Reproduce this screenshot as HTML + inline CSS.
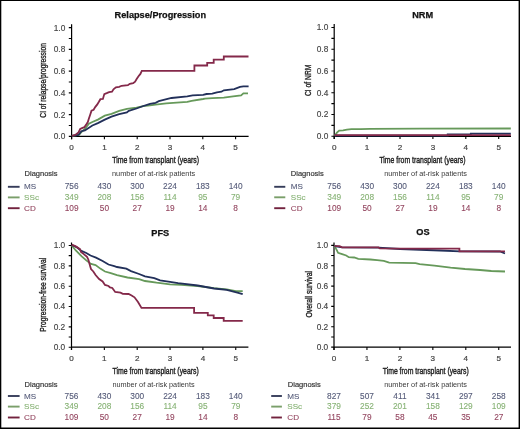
<!DOCTYPE html>
<html><head><meta charset="utf-8"><style>
html,body{margin:0;padding:0;background:#fff;}
svg{display:block;will-change:transform;}
text{font-family:"Liberation Sans", sans-serif;stroke-width:0.18px;}
</style></head><body>
<svg width="520" height="429" viewBox="0 0 520 429">
<rect x="0" y="0" width="520" height="429" fill="#fff"/>
<path d="M71.60 24.20 V139.20 M71.60 136.40 H248.60" stroke="#000" stroke-width="1.2" fill="none"/>
<path d="M68.80 136.40 H71.60 M68.80 125.52 H71.60 M68.80 114.64 H71.60 M68.80 103.76 H71.60 M68.80 92.88 H71.60 M68.80 82.00 H71.60 M68.80 71.12 H71.60 M68.80 60.24 H71.60 M68.80 49.36 H71.60 M68.80 38.48 H71.60 M68.80 27.60 H71.60 M71.60 136.40 V139.20 M104.40 136.40 V139.20 M137.20 136.40 V139.20 M170.00 136.40 V139.20 M202.80 136.40 V139.20 M235.60 136.40 V139.20 " stroke="#000" stroke-width="1.1" fill="none"/>
<text x="65.30" y="139.30" text-anchor="end" font-size="8.3" fill="#444" stroke="#444" style="stroke-width:0.15px">0.0</text>
<text x="65.30" y="117.54" text-anchor="end" font-size="8.3" fill="#444" stroke="#444" style="stroke-width:0.15px">0.2</text>
<text x="65.30" y="95.78" text-anchor="end" font-size="8.3" fill="#444" stroke="#444" style="stroke-width:0.15px">0.4</text>
<text x="65.30" y="74.02" text-anchor="end" font-size="8.3" fill="#444" stroke="#444" style="stroke-width:0.15px">0.6</text>
<text x="65.30" y="52.26" text-anchor="end" font-size="8.3" fill="#444" stroke="#444" style="stroke-width:0.15px">0.8</text>
<text x="65.30" y="30.50" text-anchor="end" font-size="8.3" fill="#444" stroke="#444" style="stroke-width:0.15px">1.0</text>
<text x="71.60" y="150.20" text-anchor="middle" font-size="8.1" fill="#444" stroke="#444" style="stroke-width:0.2px">0</text>
<text x="104.40" y="150.20" text-anchor="middle" font-size="8.1" fill="#444" stroke="#444" style="stroke-width:0.2px">1</text>
<text x="137.20" y="150.20" text-anchor="middle" font-size="8.1" fill="#444" stroke="#444" style="stroke-width:0.2px">2</text>
<text x="170.00" y="150.20" text-anchor="middle" font-size="8.1" fill="#444" stroke="#444" style="stroke-width:0.2px">3</text>
<text x="202.80" y="150.20" text-anchor="middle" font-size="8.1" fill="#444" stroke="#444" style="stroke-width:0.2px">4</text>
<text x="235.60" y="150.20" text-anchor="middle" font-size="8.1" fill="#444" stroke="#444" style="stroke-width:0.2px">5</text>
<text x="160.30" y="17.90" text-anchor="middle" font-size="9.2" font-weight="bold" fill="#111" stroke="#111" style="stroke-width:0.25px">Relapse/Progression</text>
<text transform="translate(45.80 80.40) rotate(-90)" text-anchor="middle" font-size="9.4" fill="#222" stroke="#222" style="stroke-width:0.35px" textLength="74.5" lengthAdjust="spacingAndGlyphs">CI of relapse/progression</text>
<text x="112.30" y="163.30" font-size="9.7" fill="#222" stroke="#222" style="stroke-width:0.4px" textLength="86.8" lengthAdjust="spacingAndGlyphs">Time from transplant (years)</text>
<polyline points="71.8,135.9 79.0,134.8 82.0,131.5 84.9,129.0 88.9,123.7 92.4,122.0 97.9,119.6 104.8,115.7 111.5,113.8 119.2,110.9 126.9,108.9 136.5,107.6 143.3,106.2 150.0,105.3 155.6,104.6 166.2,103.3 176.7,102.6 187.3,101.9 191.6,100.9 203.1,99.0 205.0,98.6 212.3,98.2 223.8,97.6 233.1,96.3 241.1,95.4 243.4,93.4 248.0,93.4" stroke="#66995a" stroke-width="1.8" fill="none" stroke-linejoin="miter"/>
<polyline points="71.8,135.9 78.5,134.8 81.4,131.2 84.9,130.4 87.8,128.4 92.4,125.5 97.9,123.1 104.8,119.6 111.5,116.6 119.2,114.2 126.9,112.3 128.8,110.9 136.5,108.5 143.3,106.0 150.0,103.9 155.6,102.8 158.8,101.2 171.5,98.0 187.3,96.4 192.6,95.3 203.1,94.8 206.5,94.0 212.3,93.7 216.9,92.3 221.5,91.7 223.8,90.3 234.2,89.1 240.0,86.9 243.4,86.3 248.6,86.3" stroke="#22305a" stroke-width="1.8" fill="none" stroke-linejoin="miter"/>
<polyline points="71.8,135.9 75.6,134.8 78.5,132.4 80.2,129.0 82.0,128.1 84.3,127.2 86.0,124.9 87.8,122.0 88.9,118.5 90.1,115.0 91.5,110.7 93.6,109.7 95.2,107.1 97.3,104.4 98.9,101.8 100.4,99.2 102.9,99.0 104.3,94.1 106.7,93.2 109.1,92.2 112.0,91.7 113.5,89.3 115.9,87.4 119.2,86.9 121.6,85.8 127.9,85.2 129.8,83.8 133.2,83.1 135.1,81.6 136.5,79.2 138.5,76.3 140.4,73.9 141.8,70.9 194.4,70.9 194.4,65.5 207.2,65.5 207.2,62.8 213.7,62.8 213.7,59.7 223.8,59.7 223.8,56.5 248.5,56.5" stroke="#84294a" stroke-width="1.8" fill="none" stroke-linejoin="miter"/>
<text x="24.60" y="175.80" font-size="7.5" fill="#333" stroke="#333">Diagnosis</text>
<text x="112.00" y="175.80" font-size="7.5" fill="#3a3a3a" textLength="83.2" lengthAdjust="spacingAndGlyphs">number of at-risk patients</text>
<path d="M7.90 186.80 H19.60" stroke="#363d5a" stroke-width="1.9"/>
<text x="24.10" y="189.40" font-size="8.1" fill="#545a78" stroke="#545a78" style="stroke-width:0.1px">MS</text>
<text x="71.60" y="189.40" text-anchor="middle" font-size="8.3" fill="#545a78" stroke="#545a78" style="stroke-width:0.1px">756</text>
<text x="104.40" y="189.40" text-anchor="middle" font-size="8.3" fill="#545a78" stroke="#545a78" style="stroke-width:0.1px">430</text>
<text x="137.20" y="189.40" text-anchor="middle" font-size="8.3" fill="#545a78" stroke="#545a78" style="stroke-width:0.1px">300</text>
<text x="170.00" y="189.40" text-anchor="middle" font-size="8.3" fill="#545a78" stroke="#545a78" style="stroke-width:0.1px">224</text>
<text x="202.80" y="189.40" text-anchor="middle" font-size="8.3" fill="#545a78" stroke="#545a78" style="stroke-width:0.1px">183</text>
<text x="235.60" y="189.40" text-anchor="middle" font-size="8.3" fill="#545a78" stroke="#545a78" style="stroke-width:0.1px">140</text>
<path d="M7.90 197.40 H19.60" stroke="#7a9f6a" stroke-width="1.9"/>
<text x="24.10" y="200.00" font-size="8.1" fill="#86b274" stroke="#86b274" style="stroke-width:0.1px">SSc</text>
<text x="71.60" y="200.00" text-anchor="middle" font-size="8.3" fill="#86b274" stroke="#86b274" style="stroke-width:0.1px">349</text>
<text x="104.40" y="200.00" text-anchor="middle" font-size="8.3" fill="#86b274" stroke="#86b274" style="stroke-width:0.1px">208</text>
<text x="137.20" y="200.00" text-anchor="middle" font-size="8.3" fill="#86b274" stroke="#86b274" style="stroke-width:0.1px">156</text>
<text x="170.00" y="200.00" text-anchor="middle" font-size="8.3" fill="#86b274" stroke="#86b274" style="stroke-width:0.1px">114</text>
<text x="202.80" y="200.00" text-anchor="middle" font-size="8.3" fill="#86b274" stroke="#86b274" style="stroke-width:0.1px">95</text>
<text x="235.60" y="200.00" text-anchor="middle" font-size="8.3" fill="#86b274" stroke="#86b274" style="stroke-width:0.1px">79</text>
<path d="M7.90 208.20 H19.60" stroke="#72223e" stroke-width="1.9"/>
<text x="24.10" y="210.80" font-size="8.1" fill="#93455f" stroke="#93455f" style="stroke-width:0.1px">CD</text>
<text x="71.60" y="210.80" text-anchor="middle" font-size="8.3" fill="#93455f" stroke="#93455f" style="stroke-width:0.1px">109</text>
<text x="104.40" y="210.80" text-anchor="middle" font-size="8.3" fill="#93455f" stroke="#93455f" style="stroke-width:0.1px">50</text>
<text x="137.20" y="210.80" text-anchor="middle" font-size="8.3" fill="#93455f" stroke="#93455f" style="stroke-width:0.1px">27</text>
<text x="170.00" y="210.80" text-anchor="middle" font-size="8.3" fill="#93455f" stroke="#93455f" style="stroke-width:0.1px">19</text>
<text x="202.80" y="210.80" text-anchor="middle" font-size="8.3" fill="#93455f" stroke="#93455f" style="stroke-width:0.1px">14</text>
<text x="235.60" y="210.80" text-anchor="middle" font-size="8.3" fill="#93455f" stroke="#93455f" style="stroke-width:0.1px">8</text>
<path d="M334.20 24.10 V139.10 M334.20 136.30 H511.00" stroke="#000" stroke-width="1.2" fill="none"/>
<path d="M331.40 136.30 H334.20 M331.40 125.42 H334.20 M331.40 114.54 H334.20 M331.40 103.66 H334.20 M331.40 92.78 H334.20 M331.40 81.90 H334.20 M331.40 71.02 H334.20 M331.40 60.14 H334.20 M331.40 49.26 H334.20 M331.40 38.38 H334.20 M331.40 27.50 H334.20 M334.20 136.30 V139.10 M367.10 136.30 V139.10 M400.00 136.30 V139.10 M432.90 136.30 V139.10 M465.80 136.30 V139.10 M498.70 136.30 V139.10 " stroke="#000" stroke-width="1.1" fill="none"/>
<text x="328.30" y="139.20" text-anchor="end" font-size="8.3" fill="#444" stroke="#444" style="stroke-width:0.15px">0.0</text>
<text x="328.30" y="117.44" text-anchor="end" font-size="8.3" fill="#444" stroke="#444" style="stroke-width:0.15px">0.2</text>
<text x="328.30" y="95.68" text-anchor="end" font-size="8.3" fill="#444" stroke="#444" style="stroke-width:0.15px">0.4</text>
<text x="328.30" y="73.92" text-anchor="end" font-size="8.3" fill="#444" stroke="#444" style="stroke-width:0.15px">0.6</text>
<text x="328.30" y="52.16" text-anchor="end" font-size="8.3" fill="#444" stroke="#444" style="stroke-width:0.15px">0.8</text>
<text x="328.30" y="30.40" text-anchor="end" font-size="8.3" fill="#444" stroke="#444" style="stroke-width:0.15px">1.0</text>
<text x="334.20" y="150.20" text-anchor="middle" font-size="8.1" fill="#444" stroke="#444" style="stroke-width:0.2px">0</text>
<text x="367.10" y="150.20" text-anchor="middle" font-size="8.1" fill="#444" stroke="#444" style="stroke-width:0.2px">1</text>
<text x="400.00" y="150.20" text-anchor="middle" font-size="8.1" fill="#444" stroke="#444" style="stroke-width:0.2px">2</text>
<text x="432.90" y="150.20" text-anchor="middle" font-size="8.1" fill="#444" stroke="#444" style="stroke-width:0.2px">3</text>
<text x="465.80" y="150.20" text-anchor="middle" font-size="8.1" fill="#444" stroke="#444" style="stroke-width:0.2px">4</text>
<text x="498.70" y="150.20" text-anchor="middle" font-size="8.1" fill="#444" stroke="#444" style="stroke-width:0.2px">5</text>
<text x="422.60" y="17.90" text-anchor="middle" font-size="9.2" font-weight="bold" fill="#111" stroke="#111" style="stroke-width:0.25px">NRM</text>
<text transform="translate(311.20 80.30) rotate(-90)" text-anchor="middle" font-size="9.4" fill="#222" stroke="#222" style="stroke-width:0.35px" textLength="31.5" lengthAdjust="spacingAndGlyphs">CI of NRM</text>
<text x="379.40" y="163.40" font-size="9.7" fill="#222" stroke="#222" style="stroke-width:0.4px" textLength="86.2" lengthAdjust="spacingAndGlyphs">Time from transplant (years)</text>
<polyline points="334.6,136.0 336.9,132.7 339.2,130.6 343.1,130.4 346.9,129.6 351.5,129.2 360.8,129.1 370.0,128.8 420.0,128.6 510.8,128.5" stroke="#66995a" stroke-width="1.8" fill="none" stroke-linejoin="miter"/>
<polyline points="334.6,135.6 447.7,135.6 447.7,134.4 470.8,134.4 470.8,133.6 510.8,133.6" stroke="#22305a" stroke-width="1.8" fill="none" stroke-linejoin="miter"/>
<polyline points="334.6,135.2 510.8,135.2" stroke="#84294a" stroke-width="1.8" fill="none" stroke-linejoin="miter"/>
<text x="290.80" y="175.80" font-size="7.5" fill="#333" stroke="#333">Diagnosis</text>
<text x="384.20" y="175.80" font-size="7.5" fill="#3a3a3a" textLength="82.8" lengthAdjust="spacingAndGlyphs">number of at-risk patients</text>
<path d="M274.20 186.80 H285.30" stroke="#363d5a" stroke-width="1.9"/>
<text x="290.80" y="189.40" font-size="8.1" fill="#545a78" stroke="#545a78" style="stroke-width:0.1px">MS</text>
<text x="334.20" y="189.40" text-anchor="middle" font-size="8.3" fill="#545a78" stroke="#545a78" style="stroke-width:0.1px">756</text>
<text x="367.10" y="189.40" text-anchor="middle" font-size="8.3" fill="#545a78" stroke="#545a78" style="stroke-width:0.1px">430</text>
<text x="400.00" y="189.40" text-anchor="middle" font-size="8.3" fill="#545a78" stroke="#545a78" style="stroke-width:0.1px">300</text>
<text x="432.90" y="189.40" text-anchor="middle" font-size="8.3" fill="#545a78" stroke="#545a78" style="stroke-width:0.1px">224</text>
<text x="465.80" y="189.40" text-anchor="middle" font-size="8.3" fill="#545a78" stroke="#545a78" style="stroke-width:0.1px">183</text>
<text x="498.70" y="189.40" text-anchor="middle" font-size="8.3" fill="#545a78" stroke="#545a78" style="stroke-width:0.1px">140</text>
<path d="M274.20 197.30 H285.30" stroke="#7a9f6a" stroke-width="1.9"/>
<text x="290.80" y="199.90" font-size="8.1" fill="#86b274" stroke="#86b274" style="stroke-width:0.1px">SSc</text>
<text x="334.20" y="199.90" text-anchor="middle" font-size="8.3" fill="#86b274" stroke="#86b274" style="stroke-width:0.1px">349</text>
<text x="367.10" y="199.90" text-anchor="middle" font-size="8.3" fill="#86b274" stroke="#86b274" style="stroke-width:0.1px">208</text>
<text x="400.00" y="199.90" text-anchor="middle" font-size="8.3" fill="#86b274" stroke="#86b274" style="stroke-width:0.1px">156</text>
<text x="432.90" y="199.90" text-anchor="middle" font-size="8.3" fill="#86b274" stroke="#86b274" style="stroke-width:0.1px">114</text>
<text x="465.80" y="199.90" text-anchor="middle" font-size="8.3" fill="#86b274" stroke="#86b274" style="stroke-width:0.1px">95</text>
<text x="498.70" y="199.90" text-anchor="middle" font-size="8.3" fill="#86b274" stroke="#86b274" style="stroke-width:0.1px">79</text>
<path d="M274.20 208.20 H285.30" stroke="#72223e" stroke-width="1.9"/>
<text x="290.80" y="210.80" font-size="8.1" fill="#93455f" stroke="#93455f" style="stroke-width:0.1px">CD</text>
<text x="334.20" y="210.80" text-anchor="middle" font-size="8.3" fill="#93455f" stroke="#93455f" style="stroke-width:0.1px">109</text>
<text x="367.10" y="210.80" text-anchor="middle" font-size="8.3" fill="#93455f" stroke="#93455f" style="stroke-width:0.1px">50</text>
<text x="400.00" y="210.80" text-anchor="middle" font-size="8.3" fill="#93455f" stroke="#93455f" style="stroke-width:0.1px">27</text>
<text x="432.90" y="210.80" text-anchor="middle" font-size="8.3" fill="#93455f" stroke="#93455f" style="stroke-width:0.1px">19</text>
<text x="465.80" y="210.80" text-anchor="middle" font-size="8.3" fill="#93455f" stroke="#93455f" style="stroke-width:0.1px">14</text>
<text x="498.70" y="210.80" text-anchor="middle" font-size="8.3" fill="#93455f" stroke="#93455f" style="stroke-width:0.1px">8</text>
<path d="M71.50 242.40 V350.00 M71.50 347.20 H248.40" stroke="#000" stroke-width="1.2" fill="none"/>
<path d="M68.70 347.20 H71.50 M68.70 337.03 H71.50 M68.70 326.86 H71.50 M68.70 316.69 H71.50 M68.70 306.52 H71.50 M68.70 296.35 H71.50 M68.70 286.18 H71.50 M68.70 276.01 H71.50 M68.70 265.84 H71.50 M68.70 255.67 H71.50 M68.70 245.50 H71.50 M71.50 347.20 V350.00 M104.35 347.20 V350.00 M137.20 347.20 V350.00 M170.05 347.20 V350.00 M202.90 347.20 V350.00 M235.75 347.20 V350.00 " stroke="#000" stroke-width="1.1" fill="none"/>
<text x="65.20" y="350.10" text-anchor="end" font-size="8.3" fill="#444" stroke="#444" style="stroke-width:0.15px">0.0</text>
<text x="65.20" y="329.76" text-anchor="end" font-size="8.3" fill="#444" stroke="#444" style="stroke-width:0.15px">0.2</text>
<text x="65.20" y="309.42" text-anchor="end" font-size="8.3" fill="#444" stroke="#444" style="stroke-width:0.15px">0.4</text>
<text x="65.20" y="289.08" text-anchor="end" font-size="8.3" fill="#444" stroke="#444" style="stroke-width:0.15px">0.6</text>
<text x="65.20" y="268.74" text-anchor="end" font-size="8.3" fill="#444" stroke="#444" style="stroke-width:0.15px">0.8</text>
<text x="65.20" y="248.40" text-anchor="end" font-size="8.3" fill="#444" stroke="#444" style="stroke-width:0.15px">1.0</text>
<text x="71.50" y="361.20" text-anchor="middle" font-size="8.1" fill="#444" stroke="#444" style="stroke-width:0.2px">0</text>
<text x="104.35" y="361.20" text-anchor="middle" font-size="8.1" fill="#444" stroke="#444" style="stroke-width:0.2px">1</text>
<text x="137.20" y="361.20" text-anchor="middle" font-size="8.1" fill="#444" stroke="#444" style="stroke-width:0.2px">2</text>
<text x="170.05" y="361.20" text-anchor="middle" font-size="8.1" fill="#444" stroke="#444" style="stroke-width:0.2px">3</text>
<text x="202.90" y="361.20" text-anchor="middle" font-size="8.1" fill="#444" stroke="#444" style="stroke-width:0.2px">4</text>
<text x="235.75" y="361.20" text-anchor="middle" font-size="8.1" fill="#444" stroke="#444" style="stroke-width:0.2px">5</text>
<text x="160.30" y="235.50" text-anchor="middle" font-size="9.2" font-weight="bold" fill="#111" stroke="#111" style="stroke-width:0.25px">PFS</text>
<text transform="translate(45.60 294.70) rotate(-90)" text-anchor="middle" font-size="9.4" fill="#222" stroke="#222" style="stroke-width:0.35px" textLength="73.9" lengthAdjust="spacingAndGlyphs">Progression-free survival</text>
<text x="112.50" y="374.10" font-size="9.7" fill="#222" stroke="#222" style="stroke-width:0.4px" textLength="86.3" lengthAdjust="spacingAndGlyphs">Time from transplant (years)</text>
<polyline points="71.7,245.5 75.8,250.5 81.7,256.3 86.3,260.4 91.0,263.9 95.6,265.1 100.3,268.6 105.0,271.5 110.8,273.2 117.0,275.2 127.5,277.5 139.1,279.2 145.0,281.0 156.6,282.7 170.0,284.3 181.3,284.9 197.7,286.0 214.0,288.1 226.7,289.3 236.0,291.1 242.7,291.1" stroke="#66995a" stroke-width="1.8" fill="none" stroke-linejoin="miter"/>
<polyline points="71.7,245.0 76.5,247.1 81.4,250.9 86.3,253.0 90.5,255.5 96.0,257.6 102.6,261.0 108.5,264.5 114.3,266.2 117.0,267.0 126.3,268.7 131.0,271.1 139.1,274.0 145.0,276.3 154.3,278.1 160.1,280.4 170.0,281.9 178.1,283.1 197.7,285.5 214.0,288.5 226.7,289.9 238.3,292.8 242.7,294.2" stroke="#22305a" stroke-width="1.8" fill="none" stroke-linejoin="miter"/>
<polyline points="71.7,244.7 75.8,246.4 80.0,249.2 81.0,252.0 83.8,254.1 87.0,256.9 88.4,259.7 90.1,266.0 91.0,269.1 93.3,271.5 95.6,275.0 99.1,279.0 102.6,281.4 105.0,284.9 108.5,286.0 110.0,287.4 112.3,288.0 115.2,292.0 120.5,292.6 122.8,293.8 128.6,294.0 131.6,295.5 134.5,297.3 138.0,302.0 141.5,307.9 194.1,307.9 194.1,312.8 207.8,312.8 207.8,315.4 213.7,315.4 213.7,318.0 223.7,318.0 223.7,320.9 242.7,320.9" stroke="#84294a" stroke-width="1.8" fill="none" stroke-linejoin="miter"/>
<text x="24.60" y="386.60" font-size="7.5" fill="#333" stroke="#333">Diagnosis</text>
<text x="112.40" y="386.60" font-size="7.5" fill="#3a3a3a" textLength="82.2" lengthAdjust="spacingAndGlyphs">number of at-risk patients</text>
<path d="M7.90 396.00 H19.60" stroke="#363d5a" stroke-width="1.9"/>
<text x="24.10" y="398.60" font-size="8.1" fill="#545a78" stroke="#545a78" style="stroke-width:0.1px">MS</text>
<text x="71.50" y="398.60" text-anchor="middle" font-size="8.3" fill="#545a78" stroke="#545a78" style="stroke-width:0.1px">756</text>
<text x="104.35" y="398.60" text-anchor="middle" font-size="8.3" fill="#545a78" stroke="#545a78" style="stroke-width:0.1px">430</text>
<text x="137.20" y="398.60" text-anchor="middle" font-size="8.3" fill="#545a78" stroke="#545a78" style="stroke-width:0.1px">300</text>
<text x="170.05" y="398.60" text-anchor="middle" font-size="8.3" fill="#545a78" stroke="#545a78" style="stroke-width:0.1px">224</text>
<text x="202.90" y="398.60" text-anchor="middle" font-size="8.3" fill="#545a78" stroke="#545a78" style="stroke-width:0.1px">183</text>
<text x="235.75" y="398.60" text-anchor="middle" font-size="8.3" fill="#545a78" stroke="#545a78" style="stroke-width:0.1px">140</text>
<path d="M7.90 406.60 H19.60" stroke="#7a9f6a" stroke-width="1.9"/>
<text x="24.10" y="409.20" font-size="8.1" fill="#86b274" stroke="#86b274" style="stroke-width:0.1px">SSc</text>
<text x="71.50" y="409.20" text-anchor="middle" font-size="8.3" fill="#86b274" stroke="#86b274" style="stroke-width:0.1px">349</text>
<text x="104.35" y="409.20" text-anchor="middle" font-size="8.3" fill="#86b274" stroke="#86b274" style="stroke-width:0.1px">208</text>
<text x="137.20" y="409.20" text-anchor="middle" font-size="8.3" fill="#86b274" stroke="#86b274" style="stroke-width:0.1px">156</text>
<text x="170.05" y="409.20" text-anchor="middle" font-size="8.3" fill="#86b274" stroke="#86b274" style="stroke-width:0.1px">114</text>
<text x="202.90" y="409.20" text-anchor="middle" font-size="8.3" fill="#86b274" stroke="#86b274" style="stroke-width:0.1px">95</text>
<text x="235.75" y="409.20" text-anchor="middle" font-size="8.3" fill="#86b274" stroke="#86b274" style="stroke-width:0.1px">79</text>
<path d="M7.90 417.50 H19.60" stroke="#72223e" stroke-width="1.9"/>
<text x="24.10" y="420.10" font-size="8.1" fill="#93455f" stroke="#93455f" style="stroke-width:0.1px">CD</text>
<text x="71.50" y="420.10" text-anchor="middle" font-size="8.3" fill="#93455f" stroke="#93455f" style="stroke-width:0.1px">109</text>
<text x="104.35" y="420.10" text-anchor="middle" font-size="8.3" fill="#93455f" stroke="#93455f" style="stroke-width:0.1px">50</text>
<text x="137.20" y="420.10" text-anchor="middle" font-size="8.3" fill="#93455f" stroke="#93455f" style="stroke-width:0.1px">27</text>
<text x="170.05" y="420.10" text-anchor="middle" font-size="8.3" fill="#93455f" stroke="#93455f" style="stroke-width:0.1px">19</text>
<text x="202.90" y="420.10" text-anchor="middle" font-size="8.3" fill="#93455f" stroke="#93455f" style="stroke-width:0.1px">14</text>
<text x="235.75" y="420.10" text-anchor="middle" font-size="8.3" fill="#93455f" stroke="#93455f" style="stroke-width:0.1px">8</text>
<path d="M334.00 242.40 V349.90 M334.00 347.10 H511.00" stroke="#000" stroke-width="1.2" fill="none"/>
<path d="M331.20 347.10 H334.00 M331.20 336.93 H334.00 M331.20 326.76 H334.00 M331.20 316.59 H334.00 M331.20 306.42 H334.00 M331.20 296.25 H334.00 M331.20 286.08 H334.00 M331.20 275.91 H334.00 M331.20 265.74 H334.00 M331.20 255.57 H334.00 M331.20 245.40 H334.00 M334.00 347.10 V349.90 M366.95 347.10 V349.90 M399.90 347.10 V349.90 M432.85 347.10 V349.90 M465.80 347.10 V349.90 M498.75 347.10 V349.90 " stroke="#000" stroke-width="1.1" fill="none"/>
<text x="328.20" y="350.00" text-anchor="end" font-size="8.3" fill="#444" stroke="#444" style="stroke-width:0.15px">0.0</text>
<text x="328.20" y="329.66" text-anchor="end" font-size="8.3" fill="#444" stroke="#444" style="stroke-width:0.15px">0.2</text>
<text x="328.20" y="309.32" text-anchor="end" font-size="8.3" fill="#444" stroke="#444" style="stroke-width:0.15px">0.4</text>
<text x="328.20" y="288.98" text-anchor="end" font-size="8.3" fill="#444" stroke="#444" style="stroke-width:0.15px">0.6</text>
<text x="328.20" y="268.64" text-anchor="end" font-size="8.3" fill="#444" stroke="#444" style="stroke-width:0.15px">0.8</text>
<text x="328.20" y="248.30" text-anchor="end" font-size="8.3" fill="#444" stroke="#444" style="stroke-width:0.15px">1.0</text>
<text x="334.00" y="361.20" text-anchor="middle" font-size="8.1" fill="#444" stroke="#444" style="stroke-width:0.2px">0</text>
<text x="366.95" y="361.20" text-anchor="middle" font-size="8.1" fill="#444" stroke="#444" style="stroke-width:0.2px">1</text>
<text x="399.90" y="361.20" text-anchor="middle" font-size="8.1" fill="#444" stroke="#444" style="stroke-width:0.2px">2</text>
<text x="432.85" y="361.20" text-anchor="middle" font-size="8.1" fill="#444" stroke="#444" style="stroke-width:0.2px">3</text>
<text x="465.80" y="361.20" text-anchor="middle" font-size="8.1" fill="#444" stroke="#444" style="stroke-width:0.2px">4</text>
<text x="498.75" y="361.20" text-anchor="middle" font-size="8.1" fill="#444" stroke="#444" style="stroke-width:0.2px">5</text>
<text x="423.00" y="235.30" text-anchor="middle" font-size="9.2" font-weight="bold" fill="#111" stroke="#111" style="stroke-width:0.25px">OS</text>
<text transform="translate(311.80 294.30) rotate(-90)" text-anchor="middle" font-size="9.4" fill="#222" stroke="#222" style="stroke-width:0.35px" textLength="46.5" lengthAdjust="spacingAndGlyphs">Overall survival</text>
<text x="382.70" y="374.00" font-size="9.7" fill="#222" stroke="#222" style="stroke-width:0.4px" textLength="86.1" lengthAdjust="spacingAndGlyphs">Time from transplant (years)</text>
<polyline points="334.6,245.8 336.0,248.7 338.1,252.8 342.1,254.1 346.2,255.5 348.8,257.2 354.2,257.5 358.3,258.8 370.4,259.5 377.1,260.2 383.8,260.9 389.2,262.6 415.6,263.1 419.6,264.2 434.4,265.6 450.6,267.6 465.0,269.0 480.0,270.0 491.3,271.0 505.0,271.5" stroke="#66995a" stroke-width="1.8" fill="none" stroke-linejoin="miter"/>
<polyline points="334.6,246.0 342.0,247.4 378.5,247.6 400.0,249.0 440.0,250.5 460.0,251.3 500.0,251.5 505.0,253.5" stroke="#22305a" stroke-width="1.8" fill="none" stroke-linejoin="miter"/>
<polyline points="334.6,246.2 339.6,246.2 342.1,247.4 378.5,247.4 379.8,248.3 400.0,248.6 459.4,248.6 459.4,251.3 505.0,251.3" stroke="#84294a" stroke-width="1.8" fill="none" stroke-linejoin="miter"/>
<text x="287.80" y="387.00" font-size="7.5" fill="#333" stroke="#333">Diagnosis</text>
<text x="384.20" y="387.00" font-size="7.5" fill="#3a3a3a" textLength="82.7" lengthAdjust="spacingAndGlyphs">number of at-risk patients</text>
<path d="M271.20 396.00 H281.90" stroke="#363d5a" stroke-width="1.9"/>
<text x="287.30" y="398.60" font-size="8.1" fill="#545a78" stroke="#545a78" style="stroke-width:0.1px">MS</text>
<text x="334.00" y="398.60" text-anchor="middle" font-size="8.3" fill="#545a78" stroke="#545a78" style="stroke-width:0.1px">827</text>
<text x="366.95" y="398.60" text-anchor="middle" font-size="8.3" fill="#545a78" stroke="#545a78" style="stroke-width:0.1px">507</text>
<text x="399.90" y="398.60" text-anchor="middle" font-size="8.3" fill="#545a78" stroke="#545a78" style="stroke-width:0.1px">411</text>
<text x="432.85" y="398.60" text-anchor="middle" font-size="8.3" fill="#545a78" stroke="#545a78" style="stroke-width:0.1px">341</text>
<text x="465.80" y="398.60" text-anchor="middle" font-size="8.3" fill="#545a78" stroke="#545a78" style="stroke-width:0.1px">297</text>
<text x="498.75" y="398.60" text-anchor="middle" font-size="8.3" fill="#545a78" stroke="#545a78" style="stroke-width:0.1px">258</text>
<path d="M271.20 406.60 H281.90" stroke="#7a9f6a" stroke-width="1.9"/>
<text x="287.30" y="409.20" font-size="8.1" fill="#86b274" stroke="#86b274" style="stroke-width:0.1px">SSc</text>
<text x="334.00" y="409.20" text-anchor="middle" font-size="8.3" fill="#86b274" stroke="#86b274" style="stroke-width:0.1px">379</text>
<text x="366.95" y="409.20" text-anchor="middle" font-size="8.3" fill="#86b274" stroke="#86b274" style="stroke-width:0.1px">252</text>
<text x="399.90" y="409.20" text-anchor="middle" font-size="8.3" fill="#86b274" stroke="#86b274" style="stroke-width:0.1px">201</text>
<text x="432.85" y="409.20" text-anchor="middle" font-size="8.3" fill="#86b274" stroke="#86b274" style="stroke-width:0.1px">158</text>
<text x="465.80" y="409.20" text-anchor="middle" font-size="8.3" fill="#86b274" stroke="#86b274" style="stroke-width:0.1px">129</text>
<text x="498.75" y="409.20" text-anchor="middle" font-size="8.3" fill="#86b274" stroke="#86b274" style="stroke-width:0.1px">109</text>
<path d="M271.20 417.50 H281.90" stroke="#72223e" stroke-width="1.9"/>
<text x="287.30" y="420.10" font-size="8.1" fill="#93455f" stroke="#93455f" style="stroke-width:0.1px">CD</text>
<text x="334.00" y="420.10" text-anchor="middle" font-size="8.3" fill="#93455f" stroke="#93455f" style="stroke-width:0.1px">115</text>
<text x="366.95" y="420.10" text-anchor="middle" font-size="8.3" fill="#93455f" stroke="#93455f" style="stroke-width:0.1px">79</text>
<text x="399.90" y="420.10" text-anchor="middle" font-size="8.3" fill="#93455f" stroke="#93455f" style="stroke-width:0.1px">58</text>
<text x="432.85" y="420.10" text-anchor="middle" font-size="8.3" fill="#93455f" stroke="#93455f" style="stroke-width:0.1px">45</text>
<text x="465.80" y="420.10" text-anchor="middle" font-size="8.3" fill="#93455f" stroke="#93455f" style="stroke-width:0.1px">35</text>
<text x="498.75" y="420.10" text-anchor="middle" font-size="8.3" fill="#93455f" stroke="#93455f" style="stroke-width:0.1px">27</text>
<path d="M0 0H520V1.1H0Z M0 0H1.3V429H0Z M518.6 0H520V429H518.6Z M0 427.6H520V429H0Z" fill="#000"/>
</svg>
</body></html>
